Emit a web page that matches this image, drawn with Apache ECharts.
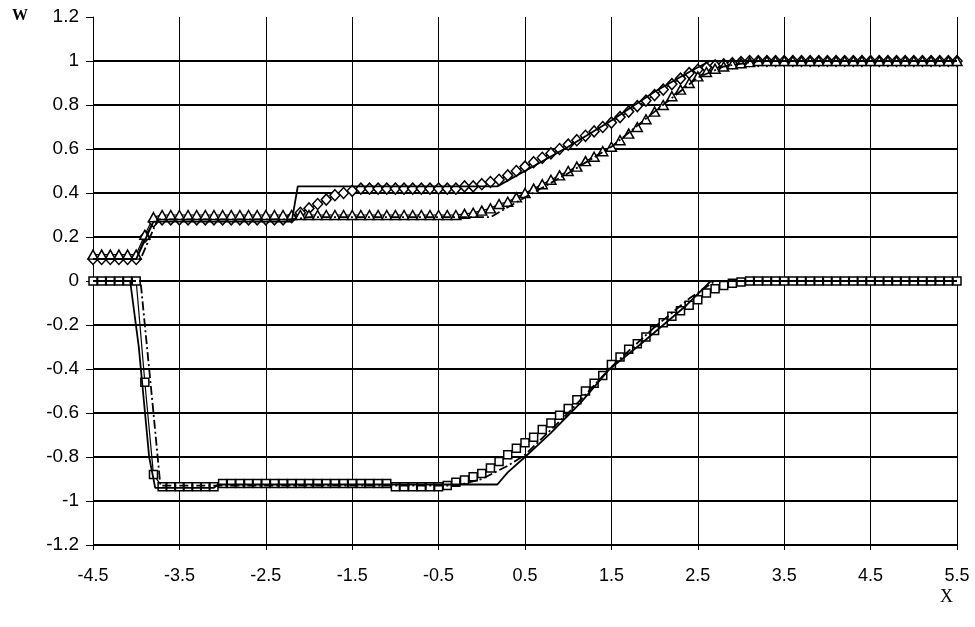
<!DOCTYPE html>
<html>
<head>
<meta charset="utf-8">
<script src="https://cdn.jsdelivr.net/npm/echarts@6/dist/echarts.min.js"></script>
<style>html,body{margin:0;padding:0;background:#fff}#c{width:975px;height:627px}</style>
</head>
<body>
<div id="c"></div>
<script>
// sampling grid of the marker series
const xs = [-4.5,-4.4,-4.3,-4.2,-4.1,-4.0,-3.9,-3.8,-3.7,-3.6,-3.5,-3.4,-3.3,-3.2,-3.1,-3.0,-2.9,-2.8,-2.7,-2.6,
  -2.5,-2.4,-2.3,-2.2,-2.1,-2.0,-1.9,-1.8,-1.7,-1.6,-1.5,-1.4,-1.3,-1.2,-1.1,-1.0,-0.9,-0.8,-0.7,-0.6,
  -0.5,-0.4,-0.3,-0.2,-0.1,0.0,0.1,0.2,0.3,0.4,0.5,0.6,0.7,0.8,0.9,1.0,1.1,1.2,1.3,1.4,
  1.5,1.6,1.7,1.8,1.9,2.0,2.1,2.2,2.3,2.4,2.5,2.6,2.7,2.8,2.9,3.0,3.1,3.2,3.3,3.4,
  3.5,3.6,3.7,3.8,3.9,4.0,4.1,4.2,4.3,4.4,4.5,4.6,4.7,4.8,4.9,5.0,5.1,5.2,5.3,5.4,5.5];

// diamonds
const diamondY = [0.10,0.10,0.10,0.10,0.10,0.10,0.20,0.27,
  0.28,0.28,0.28,0.28,0.28,0.28,0.28,0.28,0.28,0.28,0.28,0.28,0.28,0.28,0.28,
  0.29,0.31,0.33,0.35,0.37,0.39,0.40,0.41,
  0.42,0.42,0.42,0.42,0.42,0.42,0.42,0.42,0.42,0.42,0.42,0.42,
  0.43,0.43,
  0.44,0.45,0.46,0.48,0.50,0.52,0.54,0.56,0.58,0.60,0.62,0.64,0.66,0.68,0.70,0.72,0.745,0.77,0.795,0.82,
  0.845,0.87,0.895,0.92,0.945,0.96,0.97,0.98,0.985,0.99,0.995,
  1,1,1,1,1,1,1,1,1,1,1,1,1,1,1,1,1,1,1,1,1,1,1,1,1];

// triangles
const triangleY = [0.12,0.12,0.12,0.12,0.12,0.12,0.21,0.29,
  0.30,0.30,0.30,0.30,0.30,0.30,0.30,0.30,0.30,0.30,0.30,0.30,0.30,0.30,0.30,0.30,0.30,0.30,0.30,0.30,
  0.30,0.30,0.30,0.30,0.30,0.30,0.30,0.30,0.30,0.30,0.30,0.30,0.30,0.30,0.30,
  0.305,0.31,
  0.32,0.33,0.35,0.36,0.38,0.40,0.42,0.44,0.46,0.48,0.50,0.52,0.545,0.565,0.59,0.61,0.64,0.67,0.70,0.735,
  0.77,0.80,0.84,0.87,0.90,0.93,0.95,0.965,0.975,0.985,0.99,0.995,
  1,1,1,1,1,1,1,1,1,1,1,1,1,1,1,1,1,1,1,1,1,1,1,1];

// squares
const squareY = [0,0,0,0,0,0,-0.46,-0.88,
  -0.935,-0.935,-0.935,-0.935,-0.935,-0.935,-0.935,
  -0.92,-0.92,-0.92,-0.92,-0.92,-0.92,-0.92,-0.92,-0.92,-0.92,-0.92,-0.92,-0.92,-0.92,-0.92,-0.92,-0.92,-0.92,-0.92,-0.92,
  -0.935,-0.935,-0.935,-0.935,-0.935,-0.935,
  -0.93,-0.915,-0.905,-0.89,-0.875,-0.85,-0.82,-0.79,-0.76,-0.735,-0.71,-0.675,-0.645,-0.61,-0.58,
  -0.54,-0.50,-0.465,-0.43,-0.38,-0.345,-0.31,-0.285,-0.255,-0.225,-0.19,-0.16,-0.135,-0.11,-0.085,
  -0.055,-0.035,-0.02,-0.01,-0.005,
  0,0,0,0,0,0,0,0,0,0,0,0,0,0,0,0,0,0,0,0,0,0,0,0,0];

// solid line (upper)
const solidUpX = [-4.5,-4.0,-3.8,-2.2,-2.13,0.18,0.5,1.0,1.5,2.0,2.4,2.64,5.5];
const solidUpY = [0.10,0.10,0.27,0.27,0.43,0.43,0.50,0.61,0.73,0.86,0.95,1.0,1.0];
// dash-dot line (upper)
const dashUpX = [-4.5,-3.95,-3.75,-2.2,-2.0,0.1,0.5,1.0,1.5,2.0,2.5,2.8,3.2,5.5];
const dashUpY = [0.10,0.10,0.28,0.28,0.29,0.29,0.38,0.49,0.61,0.77,0.925,0.975,1.0,1.0];
// solid line (lower)
const solidLoX = [-4.5,-4.07,-3.97,-3.85,-3.78,-3.1,-3.05,0.18,0.3,0.5,0.8,1.14,1.48,1.83,2.1,2.37,2.6,2.65,5.5];
const solidLoY = [0,0,-0.3,-0.8,-0.94,-0.94,-0.925,-0.925,-0.87,-0.80,-0.69,-0.555,-0.40,-0.29,-0.20,-0.11,-0.02,0,0];
// dash-dot line (lower)
const dashLoX = [-4.5,-3.95,-3.9,-3.8,-3.72,-0.3,0.0,0.3,0.5,1.0,1.5,2.0,2.4,2.7,5.5];
const dashLoY = [0,0,-0.2,-0.6,-0.93,-0.93,-0.90,-0.84,-0.79,-0.60,-0.39,-0.21,-0.08,0,0];

const pairs = (X, Y) => X.map((x, i) => [x, Y[i]]);
const font = "'Liberation Sans', Arial, sans-serif";

const chart = echarts.init(document.getElementById('c'), null, {renderer: 'canvas'});

const markerSeries = (name, Y, symbol, size) => ({
  name, type: 'line', data: pairs(xs, Y), symbol, symbolSize: size,
  showAllSymbol: true,
  itemStyle: {color: '#fff', borderColor: '#000', borderWidth: 1.5},
  lineStyle: {color: '#000', width: 1.2},
  z: 3
});
const plainLine = (name, X, Y, type, w) => ({
  name, type: 'line', data: pairs(X, Y), symbol: 'none',
  lineStyle: {color: '#000', width: w, type},
  z: 4
});

chart.setOption({
  animation: false,
  backgroundColor: '#fff',
  grid: {left: 93, right: 18, top: 17, bottom: 82, containLabel: false},
  xAxis: {
    type: 'value', min: -4.5, max: 5.5, interval: 1,
    axisLine: {show: true, onZero: false, lineStyle: {color: '#000', width: 1}},
    axisTick: {show: true, length: 5, lineStyle: {color: '#000'}},
    axisLabel: {color: '#000', fontFamily: font, fontSize: 18, margin: 22},
    splitLine: {show: true, lineStyle: {color: '#000', width: 1}}
  },
  yAxis: {
    type: 'value', min: -1.2, max: 1.2, interval: 0.2,
    axisLine: {show: true, onZero: false, lineStyle: {color: '#000', width: 1}},
    axisTick: {show: true, length: 7, lineStyle: {color: '#000', width: 1}},
    axisLabel: {color: '#000', fontFamily: font, fontSize: 19, margin: 14,
      formatter: v => String(Math.round(v * 10) / 10)},
    splitLine: {show: true, showMaxLine: false, lineStyle: {color: '#000', width: 2}}
  },
  graphic: [
    {type: 'text', left: 12, top: 8, style: {text: 'W', font: "bold 16px 'Liberation Serif', serif", fill: '#000'}},
    {type: 'text', left: 940, top: 588, style: {text: 'X', font: "18px 'Liberation Serif', serif", fill: '#000'}}
  ],
  series: [
    plainLine('dashUp', dashUpX, dashUpY, [9, 3, 2, 3], 1.8),
    plainLine('dashLo', dashLoX, dashLoY, [9, 3, 2, 3], 1.8),
    markerSeries('diamond', diamondY, 'diamond', [10, 11]),
    markerSeries('triangle', triangleY, 'triangle', [10, 9]),
    markerSeries('square', squareY, 'rect', 8),
    plainLine('solidUp', solidUpX, solidUpY, 'solid', 1.8),
    plainLine('solidLo', solidLoX, solidLoY, 'solid', 1.8)
  ]
});
</script>
</body>
</html>
